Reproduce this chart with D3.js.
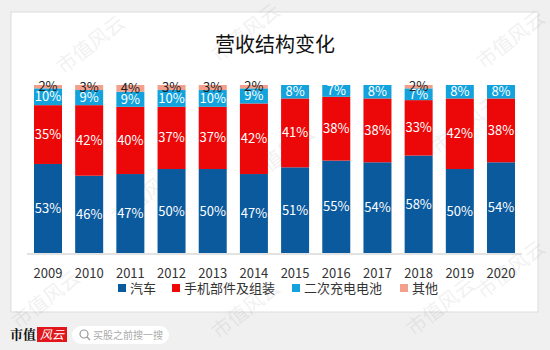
<!DOCTYPE html>
<html>
<head>
<meta charset="utf-8">
<script src="https://cdn.jsdelivr.net/npm/d3@7"></script>
<style>
  body { margin: 0; background: #f0f0f0; }
  svg { display: block; font-family: "Noto Sans CJK SC", "Noto Sans", sans-serif; }
</style>
</head>
<body>
<svg id="chart" width="550" height="350"></svg>
<script>
// data (percent of revenue)
const years = ['2009', '2010', '2011', '2012', '2013', '2014', '2015', '2016', '2017', '2018', '2019', '2020'];
const seriesNames = ['汽车', '手机部件及组装', '二次充电电池', '其他'];
const car     = [53, 46, 47, 50, 50, 47, 51, 55, 54, 58, 50, 54];
const phone   = [35, 42, 40, 37, 37, 42, 41, 38, 38, 33, 42, 38];
const battery = [10,  9,  9, 10, 10,  9,  8,  7,  8,  7,  8,  8];
const other   = [ 2,  3,  4,  3,  3,  2,  0,  0,  0,  2,  0,  0];
const colors = ['#0b5a9e', '#ec0808', '#13a2dc', '#f2a08c'];
const labelColors = ['#fff', '#fff', '#fff', '#222'];

const rows = years.map((y, i) => ({
    year: y, '汽车': car[i], '手机部件及组装': phone[i], '二次充电电池': battery[i], '其他': other[i]
}));

const svg = d3.select('#chart');

// white panel
svg.append('rect')
    .attr('x', 11).attr('y', 12)
    .attr('width', 527).attr('height', 300)
    .attr('fill', '#fff')
    .attr('stroke', '#dcdcdc');

// watermarks
const marks = [[95, 50], [250, 38], [515, 45], [285, 160], [470, 130], [50, 305], [250, 315], [445, 312], [515, 275], [150, 200]];
svg.append('g').selectAll('text')
    .data(marks)
    .join('text')
    .attr('transform', d => `translate(${d[0]},${d[1]}) rotate(-38)`)
    .attr('text-anchor', 'middle')
    .attr('font-size', 20)
    .attr('fill', '#000')
    .attr('opacity', 0.05)
    .text('市值风云');

// title
svg.append('text')
    .attr('x', 275).attr('y', 52)
    .attr('text-anchor', 'middle')
    .attr('font-size', 20)
    .attr('fill', '#111')
    .text('营收结构变化');

const x = d3.scaleBand()
    .domain(years)
    .range([27.4, 521.6])
    .paddingInner(0.32)
    .paddingOuter(0.16);

const y = d3.scaleLinear()
    .domain([0, 100])
    .range([253, 85]);

const stack = d3.stack().keys(seriesNames)(rows);

const layers = svg.append('g').selectAll('g')
    .data(stack)
    .join('g')
    .attr('fill', (d, i) => colors[i]);

layers.selectAll('rect')
    .data(d => d)
    .join('rect')
    .attr('x', d => x(d.data.year))
    .attr('width', x.bandwidth())
    .attr('y', d => y(d[1]))
    .attr('height', d => y(d[0]) - y(d[1]));

// segment labels
const labelG = svg.append('g')
    .attr('font-size', 13)
    .attr('text-anchor', 'middle');

stack.forEach((layer, i) => {
    labelG.append('g')
        .attr('fill', labelColors[i])
        .selectAll('text')
        .data(layer.filter(d => d[1] - d[0] > 0))
        .join('text')
        .attr('x', d => x(d.data.year) + x.bandwidth() / 2)
        .attr('y', d => y((d[0] + d[1]) / 2))
        .attr('dy', '0.35em')
        .text(d => (d[1] - d[0]) + '%');
});

// x axis
const xAxis = d3.axisBottom(x).tickSize(0).tickPadding(15);
svg.append('g')
    .attr('transform', 'translate(0,254)')
    .call(xAxis)
    .call(g => g.select('.domain').attr('stroke', '#d9d9d9').attr('stroke-width', 1.5)
        .attr('d', 'M27,0H522'))
    .call(g => g.selectAll('text')
        .attr('font-size', 13)
        .attr('font-family', '"Noto Sans CJK SC", sans-serif')
        .attr('fill', '#333'));

// legend
const legendX = [118, 172, 292, 400];
const legend = svg.append('g').selectAll('g')
    .data(seriesNames)
    .join('g')
    .attr('transform', (d, i) => `translate(${legendX[i]},288)`);
legend.append('rect')
    .attr('x', 0).attr('y', -4)
    .attr('width', 8).attr('height', 8)
    .attr('fill', (d, i) => colors[i]);
legend.append('text')
    .attr('x', 12).attr('dy', '0.35em')
    .attr('font-size', 13)
    .attr('fill', '#333')
    .text(d => d);

// footer logo + search pill
svg.append('text')
    .attr('x', 10).attr('y', 339)
    .attr('font-size', 13).attr('font-weight', 'bold')
    .attr('font-family', '"Noto Serif CJK SC", "Noto Sans CJK SC", serif')
    .attr('fill', '#111')
    .text('市值');
svg.append('rect')
    .attr('x', 37).attr('y', 327)
    .attr('width', 30).attr('height', 15)
    .attr('fill', '#e0161b');
svg.append('text')
    .attr('x', 52).attr('y', 339)
    .attr('text-anchor', 'middle')
    .attr('font-size', 12).attr('font-style', 'italic')
    .attr('fill', '#fff')
    .text('风云');

svg.append('rect')
    .attr('x', 72).attr('y', 326)
    .attr('width', 97).attr('height', 18)
    .attr('rx', 9)
    .attr('fill', '#fff');
svg.append('circle')
    .attr('cx', 84).attr('cy', 334).attr('r', 4)
    .attr('fill', 'none').attr('stroke', '#999').attr('stroke-width', 1.2);
svg.append('line')
    .attr('x1', 87).attr('y1', 337).attr('x2', 90).attr('y2', 340)
    .attr('stroke', '#999').attr('stroke-width', 1.2);
svg.append('text')
    .attr('x', 93).attr('y', 339)
    .attr('font-size', 10)
    .attr('fill', '#aaa')
    .text('买股之前搜一搜');
</script>
</body>
</html>
